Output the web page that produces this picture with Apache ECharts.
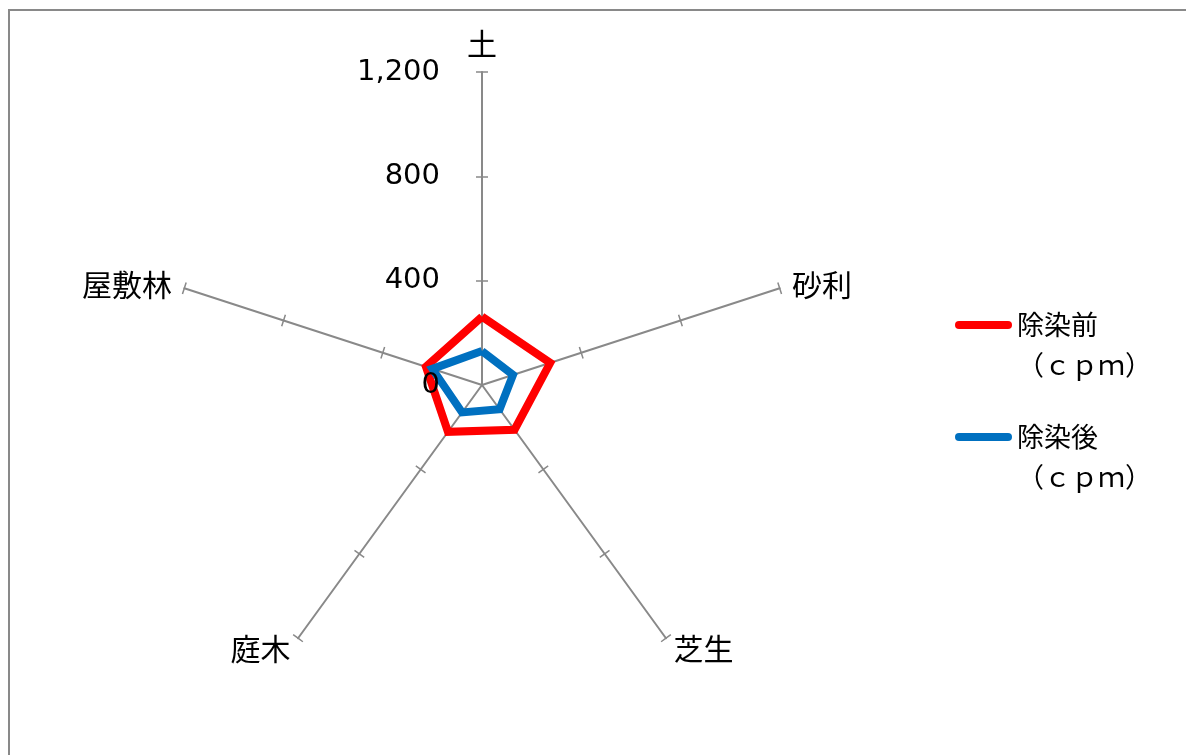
<!DOCTYPE html>
<html>
<head>
<meta charset="utf-8">
<script src="https://cdn.jsdelivr.net/npm/echarts@6/dist/echarts.min.js"></script>
<style>
html,body{margin:0;padding:0;background:#fff;overflow:hidden;}
#frame{position:absolute;left:8px;top:9px;width:1400px;height:1000px;border-top:2px solid #898989;border-left:2px solid #898989;}
#main{position:absolute;left:0;top:0;width:1186px;height:755px;}
</style>
</head>
<body>
<div id="frame"></div>
<div id="main"></div>
<script>
// 軸（上から反時計回り）
var axisNames = ['土', '屋敷林', '庭木', '芝生', '砂利'];
var axisMax = 1200;
var tickValues = [400, 800, 1200];
var seriesNames = ['除染前\n（ｃｐｍ）', '除染後\n（ｃｐｍ）'];
var before = [262, 226, 222, 212, 275];
var after = [130, 200, 130, 115, 125];
var colors = ['#FF0000', '#0070C0'];

var jp = '"Noto Sans CJK JP", sans-serif';

function makeIndicators(withLabel){
	return axisNames.map(function(n, i){
		var ind = {name: n, max: axisMax};
		if(withLabel && i == 0) ind.axisLabel = {show: true};
		return ind;
	});
};

var chart = echarts.init(document.getElementById('main'));
var option = {
	animation: false,
	legend: {
		orient: 'vertical',
		left: 955,
		top: 265,
		padding: 0,
		itemGap: -8,
		itemWidth: 57,
		itemHeight: 8,
		icon: 'path://M4,0 H53 A4,4 0 0 1 53,8 H4 A4,4 0 0 1 4,0 Z',
		textStyle: {color: '#000', fontSize: 27, lineHeight: 40, fontFamily: jp},
		// 1行目をアイコンの高さに揃える
		formatter: function(name){ return '\n' + name; },
		data: seriesNames
	},
	radar: [
		{
			center: [482, 385],
			radius: 313,
			startAngle: 90,
			splitNumber: 3,
			shape: 'polygon',
			indicator: makeIndicators(false),
			nameGap: 13,
			axisName: {color: '#000', fontSize: 30, fontFamily: jp},
			axisLine: {lineStyle: {color: '#898989', width: 2}},
			axisTick: {show: true, length: 6, customValues: tickValues, lineStyle: {color: '#898989', width: 1.5}},
			axisLabel: {show: false},
			splitLine: {show: false},
			splitArea: {show: false}
		},
		{
			// 目盛りの反対側とラベル
			z: 3,
			center: [482, 385],
			radius: 313,
			startAngle: 90,
			splitNumber: 3,
			shape: 'polygon',
			indicator: makeIndicators(true),
			axisName: {show: false},
			axisLine: {show: true, lineStyle: {color: 'rgba(0,0,0,0)'}},
			axisTick: {show: true, length: -6, customValues: tickValues, lineStyle: {color: '#898989', width: 1.5}},
			axisLabel: {show: false, margin: 42, color: '#000', fontSize: 29, fontFamily: '"DejaVu Sans"'},
			splitLine: {show: false},
			splitArea: {show: false}
		}
	],
	series: [
		{
			type: 'radar',
			radarIndex: 0,
			symbol: 'none',
			data: [
				{name: seriesNames[0], value: before, itemStyle: {color: colors[0]},
					lineStyle: {color: colors[0], width: 8, join: 'miter'}},
				{name: seriesNames[1], value: after, itemStyle: {color: colors[1]},
					lineStyle: {color: colors[1], width: 8, join: 'miter'}}
			]
		}
	]
};
chart.setOption(option);
</script>
</body>
</html>
